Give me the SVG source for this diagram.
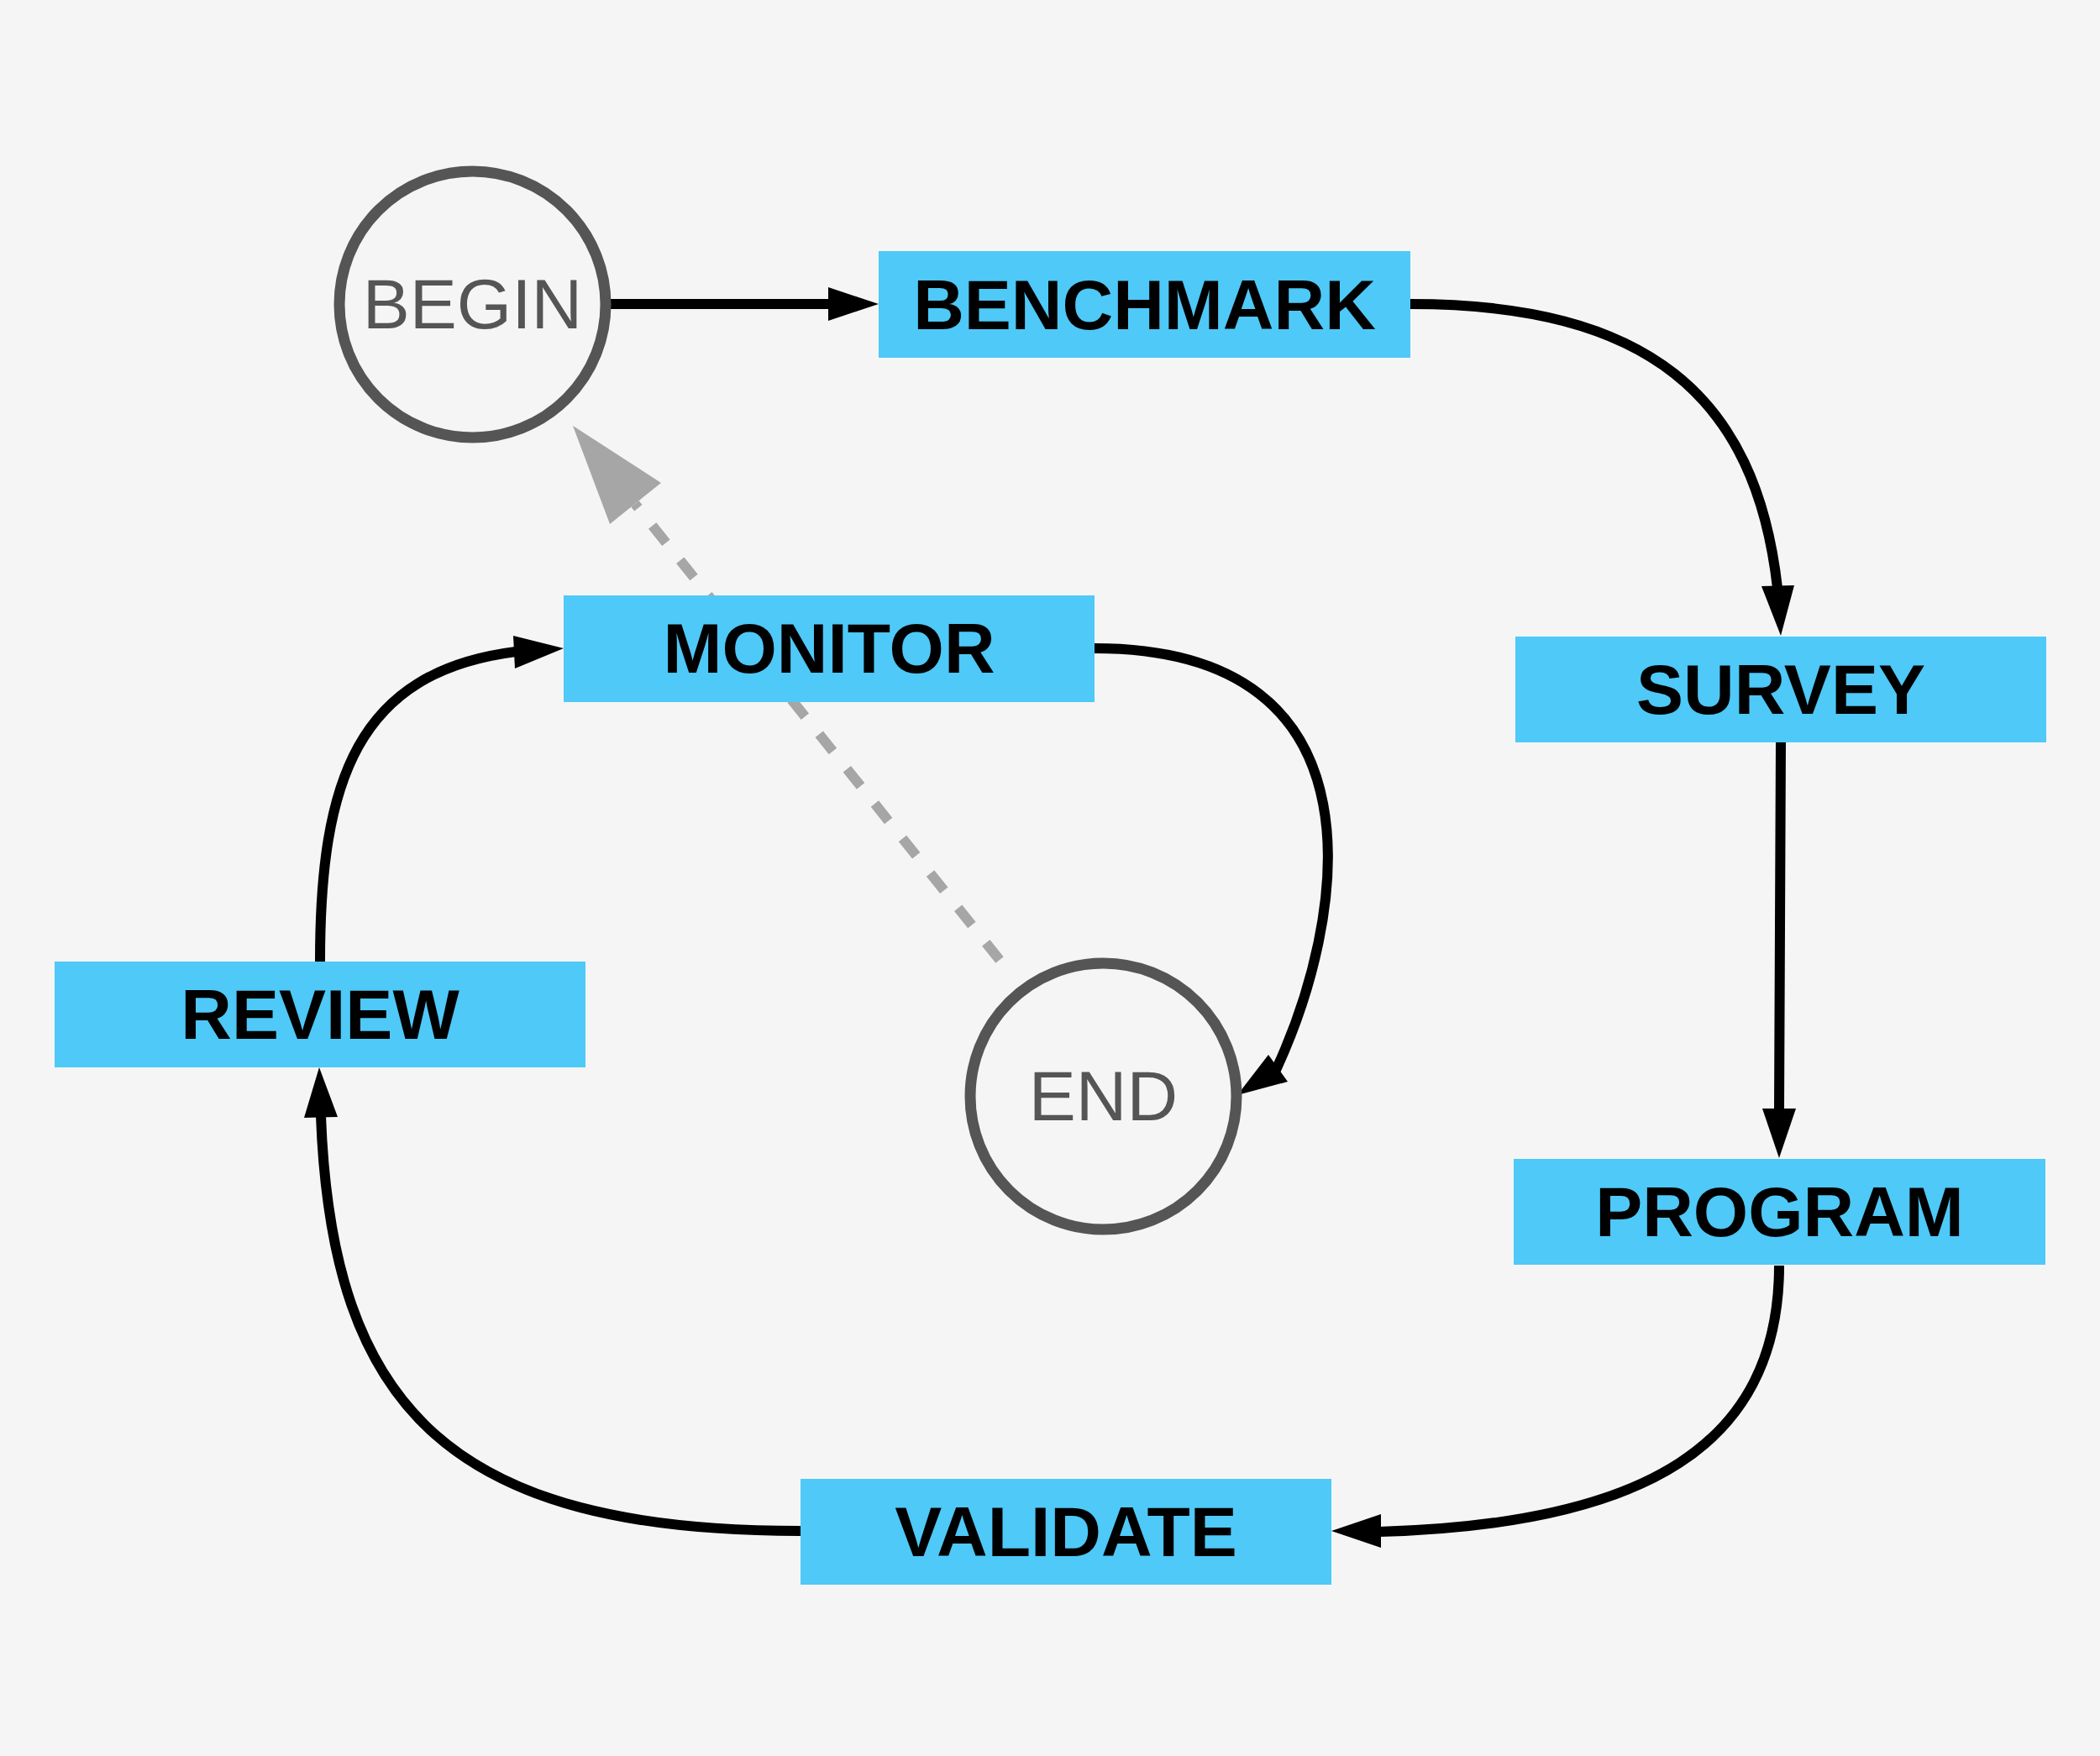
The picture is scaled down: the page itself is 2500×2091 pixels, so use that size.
<svg xmlns="http://www.w3.org/2000/svg" width="2500" height="2091" viewBox="0 0 2500 2091">
<style>
.bg{fill:#f5f5f5}
.box{fill:#4ec9f8}
.lbl{font-family:"Liberation Sans",Arial,sans-serif;font-weight:bold;font-size:84px;fill:#000;text-anchor:middle}
.term{fill:#f5f5f5;stroke:#555555;stroke-width:13}
.tlbl{font-family:"Liberation Sans",Arial,sans-serif;font-size:84px;fill:#555555;text-anchor:middle}
.edge{fill:none;stroke:#000;stroke-width:12}
.head{fill:#000}
.dash{fill:none;stroke:#a6a6a6;stroke-width:12;stroke-dasharray:26 27}
.ghead{fill:#a6a6a6}
</style>
<rect class="bg" x="0" y="0" width="2500" height="2091"/>
<g id="connectors">
<path class="dash" d="M1190,1143 L756,600"/>
<polygon class="ghead" points="682,507 787,575 726,624"/>
<path class="edge" d="M727,362 L990,362"/>
<polygon class="head" points="1046,362 986,342 986,382"/>
<path class="edge" d="M1679,362 C1960,362 2090,470 2116,700"/>
<polygon class="head" points="2120,757 2097,698 2136,697"/>
<path class="edge" d="M2120,884 C2120,1110 2118,1100 2118,1322"/>
<polygon class="head" points="2118,1379 2098,1320 2138,1320"/>
<path class="edge" d="M2118,1507 C2118,1720 1960,1815 1642,1824"/>
<polygon class="head" points="1585,1823 1644,1803 1644,1843"/>
<path class="edge" d="M953,1823 C540,1823 395,1680 382,1329"/>
<polygon class="head" points="380,1271 362,1331 402,1330"/>
<path class="edge" d="M381,1145 C381,930 425,800 614,776"/>
<polygon class="head" points="671,772 611,757 613,796"/>
<path class="edge" d="M1303,772 C1660,772 1600,1100 1519,1274"/>
<polygon class="head" points="1473,1304 1510,1256 1533,1288"/>
</g>
<g id="node-begin">
<circle class="term" cx="562.5" cy="362.5" r="158.5"/>
<text class="tlbl" x="562.5" y="391">BEGIN</text>
</g>
<g id="node-benchmark">
<rect class="box" x="1046" y="299" width="633" height="127"/>
<text class="lbl" x="1362.5" y="392">BENCHMARK</text>
</g>
<g id="node-survey">
<rect class="box" x="1804" y="758" width="632" height="126"/>
<text class="lbl" x="2120" y="850">SURVEY</text>
</g>
<g id="node-program">
<rect class="box" x="1802" y="1380" width="633" height="126"/>
<text class="lbl" x="2118.5" y="1472">PROGRAM</text>
</g>
<g id="node-validate">
<rect class="box" x="953" y="1761" width="632" height="126"/>
<text class="lbl" x="1269" y="1853">VALIDATE</text>
</g>
<g id="node-review">
<rect class="box" x="65" y="1145" width="632" height="126"/>
<text class="lbl" x="381" y="1237">REVIEW</text>
</g>
<g id="node-monitor">
<rect class="box" x="671" y="709" width="632" height="127"/>
<text class="lbl" x="987" y="801">MONITOR</text>
</g>
<g id="node-end">
<circle class="term" cx="1313.5" cy="1305.5" r="158.5"/>
<text class="tlbl" x="1313.5" y="1334">END</text>
</g>
</svg>
